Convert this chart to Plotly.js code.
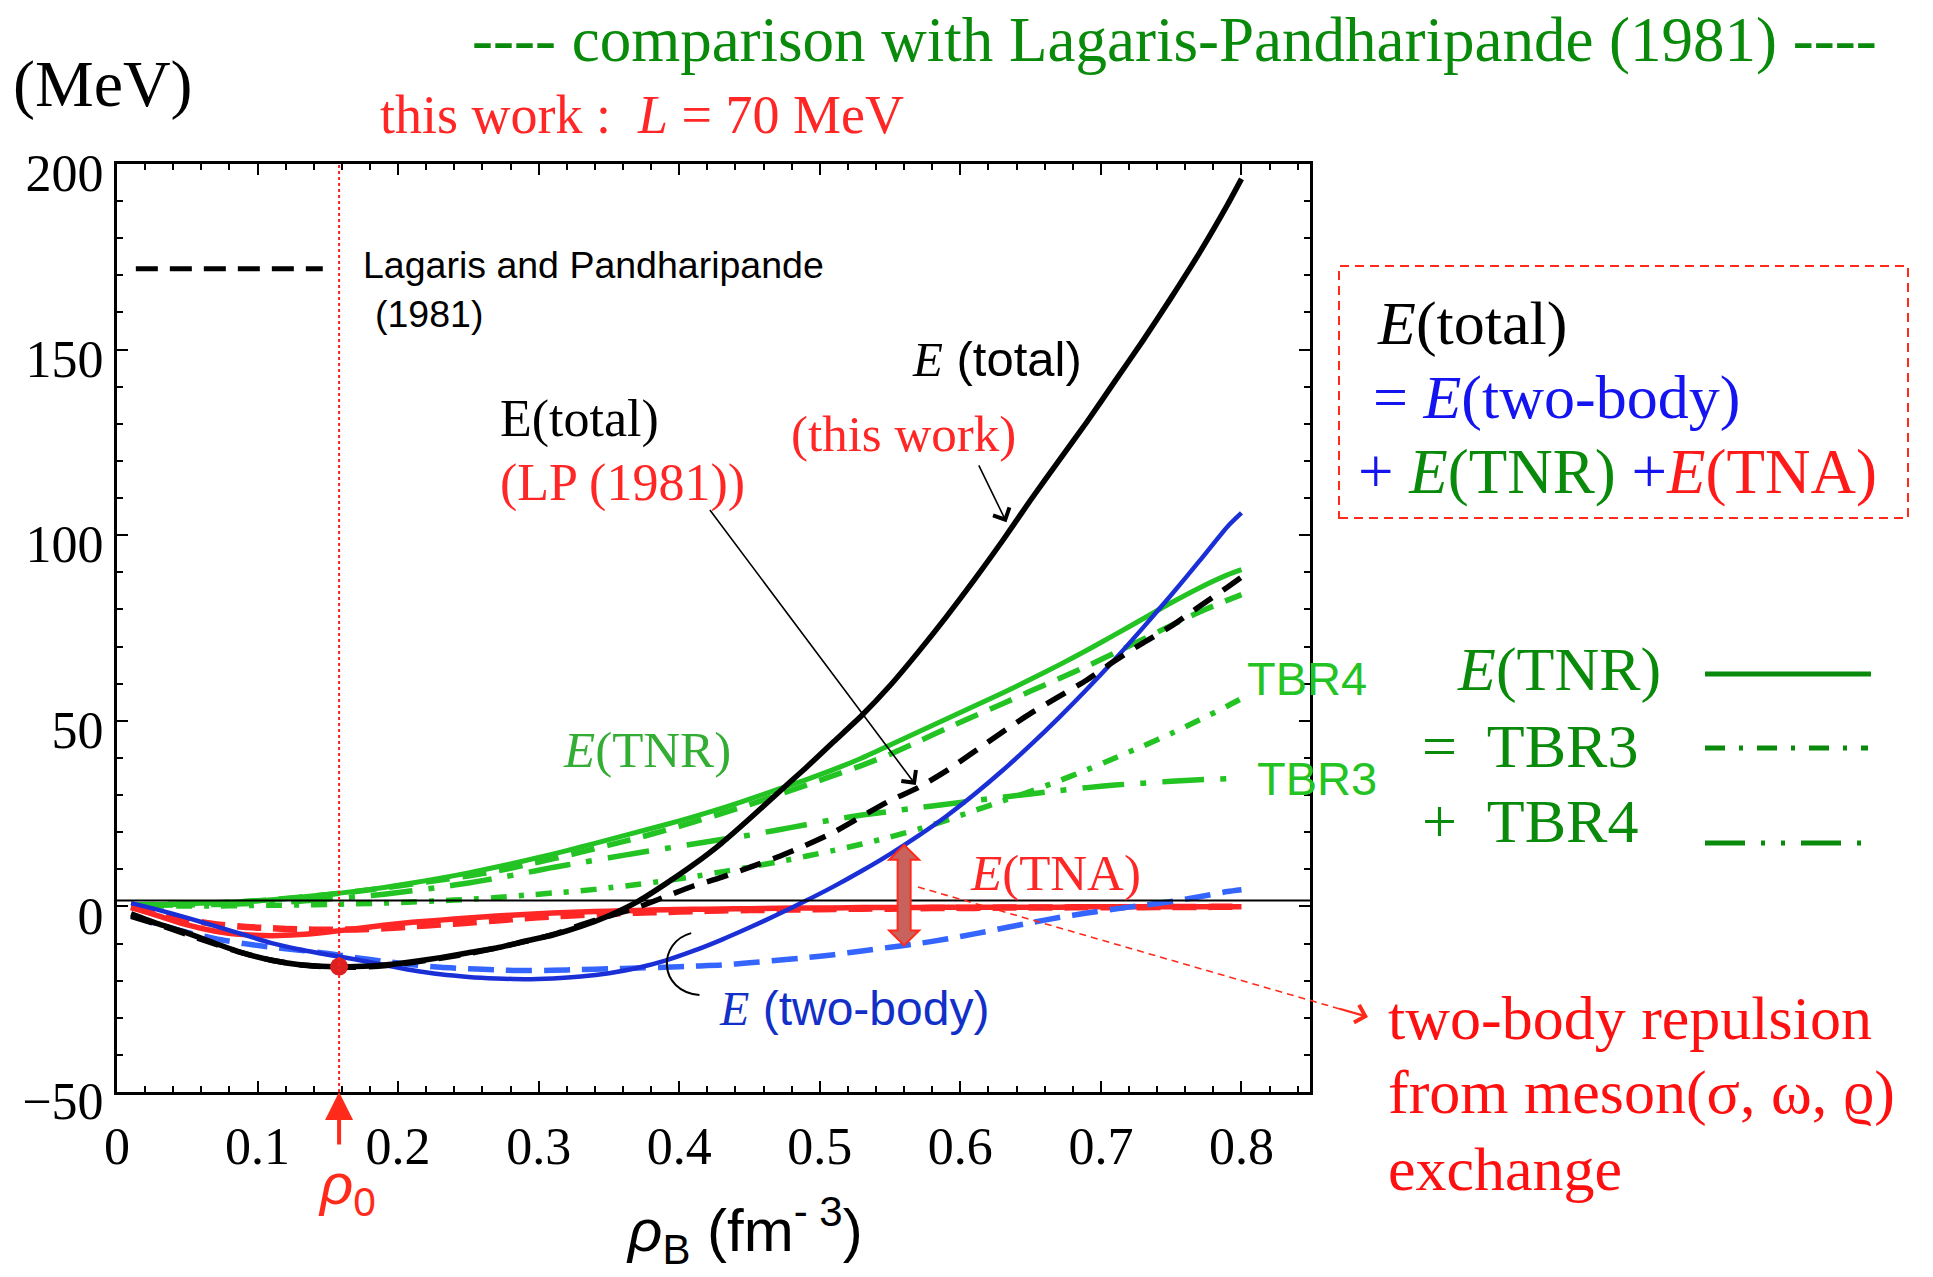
<!DOCTYPE html>
<html>
<head>
<meta charset="utf-8">
<script src="https://cdn.plot.ly/plotly-3.0.1.min.js"></script>
<style>
  html, body { margin: 0; padding: 0; background: #ffffff; }
  #chart { width: 1933px; height: 1277px; }
</style>
</head>
<body>
<div id="chart"></div>
<script>
// Baryon density grid (fm^-3)
const rho = [0.01, 0.03, 0.05, 0.07, 0.09, 0.11, 0.13, 0.15, 0.17, 0.19,
             0.21, 0.23, 0.25, 0.27, 0.29, 0.31, 0.33, 0.35, 0.37, 0.39,
             0.41, 0.43, 0.45, 0.47, 0.49, 0.51, 0.53, 0.55, 0.57, 0.59,
             0.61, 0.63, 0.65, 0.67, 0.69, 0.71, 0.73, 0.75, 0.77, 0.79, 0.80];

// This work (L = 70 MeV)
const totalThis = [-2.0, -4.8, -7.2, -10.0, -12.6, -14.5, -15.7, -16.2, -16.2, -15.8,
                   -14.9, -13.8, -12.5, -11.2, -9.4, -7.7, -5.4, -2.5, 1.2, 6.0,
                   11.2, 17.0, 23.6, 30.5, 37.3, 44.4, 51.5, 59.5, 68.5, 78.0,
                   88.0, 98.5, 109.5, 120.0, 130.5, 141.5, 152.5, 164.0, 176.0, 189.0, 196.0];
const twoBodyThis = [0.9, -1.0, -3.1, -5.3, -7.6, -9.9, -11.6, -13.0, -14.3, -15.8,
                     -17.2, -18.3, -19.0, -19.4, -19.6, -19.4, -18.9, -18.0, -16.6, -14.6,
                     -12.0, -9.0, -5.7, -2.2, 1.5, 5.4, 9.6, 14.1, 19.0, 24.3,
                     30.2, 36.6, 43.5, 50.8, 58.5, 66.6, 75.1, 83.9, 93.0, 102.3, 106.0];
const tnrThis = [0.4, 0.5, 0.7, 1.0, 1.3, 1.8, 2.5, 3.2, 4.1, 5.1,
                 6.3, 7.6, 9.0, 10.6, 12.3, 14.1, 16.0, 18.0, 20.0, 22.0,
                 24.1, 26.4, 28.9, 31.5, 34.1, 36.9, 40.0, 43.5, 47.0, 50.5,
                 54.0, 57.5, 61.2, 65.0, 69.0, 73.2, 77.5, 81.8, 85.8, 89.3, 90.7];
const tnaThis = [-0.2, -2.6, -5.0, -6.7, -7.6, -7.9, -7.6, -6.9, -6.0, -5.1,
                 -4.3, -3.7, -3.1, -2.6, -2.2, -1.8, -1.5, -1.3, -1.1, -0.9,
                 -0.8, -0.7, -0.6, -0.5, -0.4, -0.4, -0.3, -0.3, -0.3, -0.2,
                 -0.2, -0.2, -0.2, -0.2, -0.1, -0.1, -0.1, -0.1, -0.1, -0.1, -0.1];
const tbr3 = [0.3, 0.3, 0.4, 0.5, 0.7, 1.0, 1.4, 2.0, 2.6, 3.3,
              4.2, 5.2, 6.3, 7.6, 9.0, 10.5, 11.8, 13.1, 14.4, 15.6,
              16.8, 18.0, 19.2, 20.6, 22.0, 23.4, 24.6, 25.6, 26.6, 27.5,
              28.5, 29.4, 30.3, 31.2, 32.0, 32.7, 33.2, 33.7, 34.1, 34.4, 34.5];
const tbr4 = [0.1, 0.1, 0.1, 0.1, 0.2, 0.3, 0.4, 0.5, 0.7, 0.9,
              1.2, 1.5, 1.9, 2.4, 3.0, 3.6, 4.2, 5.0, 5.9, 6.9,
              8.0, 9.3, 10.6, 12.0, 13.5, 15.1, 16.8, 18.7, 20.8, 23.2,
              25.8, 28.4, 31.0, 33.8, 36.8, 40.0, 43.2, 46.6, 50.2, 54.0, 56.0];

// Lagaris-Pandharipande (1981)
const totalLP = [-2.7, -5.0, -7.6, -10.2, -12.6, -14.5, -15.7, -16.3, -16.4, -16.0,
                 -15.1, -14.0, -12.7, -11.2, -9.5, -7.6, -5.0, -2.6, -0.3, 2.6,
                 5.5, 7.8, 10.5, 13.3, 16.5, 20.0, 24.3, 28.5, 32.0, 36.5,
                 41.7, 47.0, 52.0, 56.5, 61.0, 66.2, 71.0, 75.5, 80.8, 86.0, 88.7];
const twoBodyLP = [-2.5, -4.9, -7.0, -8.7, -10.0, -11.0, -11.8, -12.7, -13.8, -14.8,
                   -15.7, -16.4, -16.8, -17.1, -17.3, -17.2, -17.0, -16.8, -16.6, -16.4,
                   -16.1, -15.8, -15.2, -14.5, -13.8, -13.0, -12.0, -11.0, -10.0, -8.8,
                   -7.4, -5.9, -4.4, -3.0, -1.8, -0.7, 0.3, 1.3, 2.6, 4.0, 4.5];
const tnrLP = [0.4, 0.5, 0.7, 1.0, 1.3, 1.8, 2.5, 3.2, 4.0, 5.0,
               6.0, 7.1, 8.2, 9.5, 11.1, 12.8, 14.6, 16.5, 18.4, 20.5,
               22.7, 25.0, 27.4, 30.0, 32.6, 35.3, 38.0, 41.0, 44.4, 47.9,
               51.3, 54.6, 58.0, 61.3, 64.7, 68.3, 72.0, 75.7, 79.3, 82.5, 84.0];
const tnaLP = [-0.2, -2.2, -3.6, -4.8, -5.5, -5.9, -6.2, -6.3, -6.2, -5.9,
               -5.4, -4.9, -4.4, -3.8, -3.2, -2.7, -2.3, -2.0, -1.7, -1.5,
               -1.3, -1.1, -1.0, -0.9, -0.8, -0.7, -0.6, -0.6, -0.5, -0.4,
               -0.4, -0.3, -0.3, -0.3, -0.2, -0.2, -0.2, -0.15, -0.15, -0.1, -0.1];

// Saturation density and the density where the two-body gap is marked
const rho0 = 0.158;
const rhoGap = 0.56;

// Axis ticks
const xTickVals = [0, 0.1, 0.2, 0.3, 0.4, 0.5, 0.6, 0.7, 0.8];
const xTickText = ['0', '0.1', '0.2', '0.3', '0.4', '0.5', '0.6', '0.7', '0.8'];
const yTickVals = [-50, 0, 50, 100, 150, 200];
const yTickText = ['\u221250', '0', '50', '100', '150', '200'];

// ---------------------------------------------------------------
const SERIF = 'Liberation Serif, Times New Roman, serif';
const SANS = 'Liberation Sans, Arial, Helvetica, sans-serif';

const BLACK = '#000000';
const BLUE = '#1a2fd6';
const BLUE_D = '#3565ff';
const RED = '#ff2626';
const GREEN = '#22c322';
const GREEN_TXT = '#33ad33';
const DKGREEN = '#0a8a0a';

function interp(xs, ys, x) {
  for (let i = 0; i < xs.length - 1; i++) {
    if (x >= xs[i] && x <= xs[i + 1]) {
      const t = (x - xs[i]) / (xs[i + 1] - xs[i]);
      return ys[i] + t * (ys[i + 1] - ys[i]);
    }
  }
  return ys[ys.length - 1];
}

function line(y, color, width, dash) {
  return {
    x: rho, y: y, type: 'scatter', mode: 'lines', hoverinfo: 'skip',
    line: {color: color, width: width, dash: dash || 'solid', shape: 'spline', smoothing: 0.6}
  };
}

const traces = [
  line(tbr3, GREEN, 5.5, '42px,16px,6px,16px'),
  line(tbr4, GREEN, 5.5, '16px,12px,5px,12px'),
  line(tnrLP, GREEN, 5.5, '24px,13px'),
  line(tnrThis, GREEN, 5),
  line(tnaLP, RED, 6.5, '24px,12px'),
  line(tnaThis, RED, 5.5),
  line(twoBodyLP, BLUE_D, 5.5, '26px,12px'),
  line(twoBodyThis, BLUE, 4.5),
  line(totalLP, BLACK, 5.5, '22px,13px'),
  line(totalThis, BLACK, 5.5),
  {
    x: [rho0], y: [interp(rho, totalThis, rho0)], type: 'scatter', mode: 'markers',
    hoverinfo: 'skip', marker: {color: '#dd2020', size: 18}
  }
];

// plot-area geometry in page pixels, used to place the free-standing texts
const ML = 117, MR = 623, MT = 164, MB = 185;
const PW = 1933 - ML - MR, PH = 1277 - MT - MB;
const PB = 1277 - MB;
const px = v => (v - ML) / PW;
const py = v => (PB - v) / PH;

function txt(text, x, y, size, color, family, xanchor) {
  return {
    xref: 'paper', yref: 'paper', x: px(x), y: py(y), text: text,
    showarrow: false, xanchor: xanchor || 'left', yanchor: 'middle',
    font: {family: family || SERIF, size: size, color: color || BLACK}
  };
}

const E = '<i>E</i>';
const Eserif = '<span style="font-family:Liberation Serif"><i>E</i></span>';

const annotations = [
  txt('(MeV)', 11, 84, 66, BLACK),
  txt('---- comparison with Lagaris-Pandharipande (1981) ----', 1174, 40, 63, DKGREEN, SERIF, 'center'),
  txt('this work :\u00a0 <i>L</i> = 70 MeV', 378, 115, 54, RED),
  txt('Lagaris and Pandharipande', 361, 265, 37.5, BLACK, SANS),
  txt('(1981)', 373, 314, 37.5, BLACK, SANS),
  txt(Eserif + ' (total)', 910, 360, 49, BLACK, SANS),
  txt('(this work)', 789, 434, 51, RED),
  txt('E(total)', 498, 419, 52, BLACK),
  txt('(LP (1981))', 498, 483, 52, RED),
  txt(E + '(TNR)', 561, 750, 51, GREEN_TXT),
  txt('TBR4', 1245, 678, 47, GREEN, SANS),
  txt('TBR3', 1255, 778, 47, GREEN, SANS),
  txt(E + '(TNA)', 968, 873, 51, RED),
  txt(Eserif + ' (two-body)', 717, 1008, 48, '#1230c8', SANS),

  // boxed decomposition
  txt(E + '(total)', 1375, 323, 62, BLACK),
  txt('= ' + E + '(two-body)', 1371, 397, 62, '#1414f0'),
  txt('+ <span style="color:' + DKGREEN + '">' + E + '(TNR)</span> +<span style="color:#ff1a1a">' + E + '(TNA)</span>',
      1356, 472, 63, '#1414f0'),

  // line-style key for the three-body repulsion
  txt(E + '(TNR)', 1455, 669, 62, DKGREEN),
  txt('=\u00a0 TBR3', 1420, 746, 62, DKGREEN),
  txt('+\u00a0 TBR4', 1420, 821, 62, DKGREEN),

  // explanation of the two-body gap
  txt('two-body repulsion', 1386, 1018, 62, '#ff1010'),
  txt('from meson(\u03c3, \u03c9, \u03f1)', 1386, 1092, 62, '#ff1010'),
  txt('exchange', 1386, 1169, 62, '#ff1010'),

  // axis title and saturation density
  txt('<i>\u03c1</i><sub>B</sub> (fm<sup>- 3</sup>)', 744, 1230, 60, BLACK, SANS, 'center'),
  txt('<i>\u03c1</i><sub>0</sub>', 347, 1188, 58, '#ff2a1a', SANS, 'center'),

  // arrows
  {
    xref: 'x', yref: 'paper', x: rho0, y: 0, ax: 0, ay: 54, text: '',
    showarrow: true, arrowhead: 2, arrowsize: 1.4, arrowwidth: 4, arrowcolor: '#ff2a1a'
  },
  {
    xref: 'x', yref: 'y', axref: 'x', ayref: 'y', x: 0.5683, y: 32.7, ax: 0.421, ay: 107.2,
    text: '', showarrow: true, arrowhead: 4, arrowsize: 2.2, arrowwidth: 1.6, arrowcolor: BLACK
  },
  {
    xref: 'x', yref: 'y', axref: 'x', ayref: 'y', x: 0.6328, y: 103.5, ax: 0.6126, ay: 119.2,
    text: '', showarrow: true, arrowhead: 4, arrowsize: 2.2, arrowwidth: 1.6, arrowcolor: BLACK
  },
  {
    xref: 'paper', yref: 'paper', x: px(1368), y: py(1017), ax: -30, ay: -8.7,
    text: '', showarrow: true, arrowhead: 4, arrowsize: 1.6, arrowwidth: 2.2, arrowcolor: '#ff2a1a'
  }
];

// double-headed marker spanning the gap between the two-body curves
const gapTop = interp(rho, twoBodyThis, rhoGap);
const gapBot = interp(rho, twoBodyLP, rhoGap);
const headLen = 4.0, halfHead = 15, halfShaft = 6.5;
const gapPts = [
  [0, gapTop], [halfHead, gapTop - headLen], [halfShaft, gapTop - headLen],
  [halfShaft, gapBot + headLen], [halfHead, gapBot + headLen], [0, gapBot],
  [-halfHead, gapBot + headLen], [-halfShaft, gapBot + headLen],
  [-halfShaft, gapTop - headLen], [-halfHead, gapTop - headLen]
];
const gapPath = gapPts.map((p, i) => (i ? 'L' : 'M') + p[0] + ',' + p[1]).join(' ') + ' Z';

const shapes = [
  // reference horizontal line
  {type: 'line', xref: 'paper', yref: 'y', x0: 0, x1: 1, y0: 1.6, y1: 1.6,
   line: {color: BLACK, width: 2}},
  // saturation density marker
  {type: 'line', xref: 'x', yref: 'paper', x0: rho0, x1: rho0, y0: 0, y1: 1,
   line: {color: '#ff2020', width: 2, dash: 'dot'}},
  // key sample for the LP curves
  {type: 'line', xref: 'x', yref: 'y', x0: 0.0134, x1: 0.1464, y0: 171.8, y1: 171.8,
   line: {color: BLACK, width: 5, dash: '22px,12px'}},
  // gap arrow
  {type: 'path', xref: 'x', yref: 'y', xsizemode: 'pixel', xanchor: rhoGap, path: gapPath,
   fillcolor: '#c8625c', line: {color: '#ff2a1a', width: 2}},
  // bracket for the two-body label
  {type: 'path', xref: 'x', yref: 'y',
   path: 'M0.4085,-7.2 C0.3845,-9.6 0.3845,-22.8 0.4144,-23.9',
   line: {color: BLACK, width: 2}},
  // pointer to the explanation text
  {type: 'line', xref: 'paper', yref: 'paper', x0: px(918), y0: py(887), x1: px(1340), y1: py(1009),
   line: {color: '#ff2a1a', width: 1.6, dash: '7px,5px'}},
  // box around the decomposition
  {type: 'rect', xref: 'paper', yref: 'paper', x0: px(1339), x1: px(1908), y0: py(518), y1: py(266),
   line: {color: '#ff2a1a', width: 2, dash: '9px,6px'}},
  // line-style key samples
  {type: 'line', xref: 'paper', yref: 'paper', x0: px(1705), x1: px(1871), y0: py(674), y1: py(674),
   line: {color: DKGREEN, width: 5}},
  {type: 'line', xref: 'paper', yref: 'paper', x0: px(1705), x1: px(1868), y0: py(748), y1: py(748),
   line: {color: DKGREEN, width: 5, dash: '20px,14px,4px,14px'}},
  {type: 'line', xref: 'paper', yref: 'paper', x0: px(1705), x1: px(1871), y0: py(843), y1: py(843),
   line: {color: DKGREEN, width: 5, dash: '40px,16px,4px,16px,4px,16px'}}
];

const axisCommon = {
  showline: true, linewidth: 3, linecolor: BLACK, mirror: 'allticks',
  ticks: 'inside', ticklen: 11, tickwidth: 2, tickcolor: BLACK,
  showgrid: false, zeroline: false, fixedrange: true,
  tickfont: {family: SERIF, size: 52, color: BLACK}
};

const layout = {
  width: 1933, height: 1277,
  margin: {l: ML, r: MR, t: MT, b: MB, pad: 0},
  paper_bgcolor: '#ffffff', plot_bgcolor: '#ffffff',
  showlegend: false,
  xaxis: Object.assign({}, axisCommon, {
    range: [0, PW / 1405.6], tickmode: 'array', tickvals: xTickVals, ticktext: xTickText,
    ticklabelstandoff: 7,
    minor: {tick0: 0, dtick: 0.02, ticks: 'inside', ticklen: 6, tickwidth: 2, tickcolor: BLACK, showgrid: false}
  }),
  yaxis: Object.assign({}, axisCommon, {
    range: [-50, 200], tickmode: 'array', tickvals: yTickVals, ticktext: yTickText,
    ticklabelstandoff: 0, ticklabelshift: 9,
    minor: {tick0: 0, dtick: 10, ticks: 'inside', ticklen: 6, tickwidth: 2, tickcolor: BLACK, showgrid: false}
  }),
  annotations: annotations,
  shapes: shapes
};

Plotly.newPlot('chart', traces, layout, {staticPlot: true, displayModeBar: false});
</script>
</body>
</html>
